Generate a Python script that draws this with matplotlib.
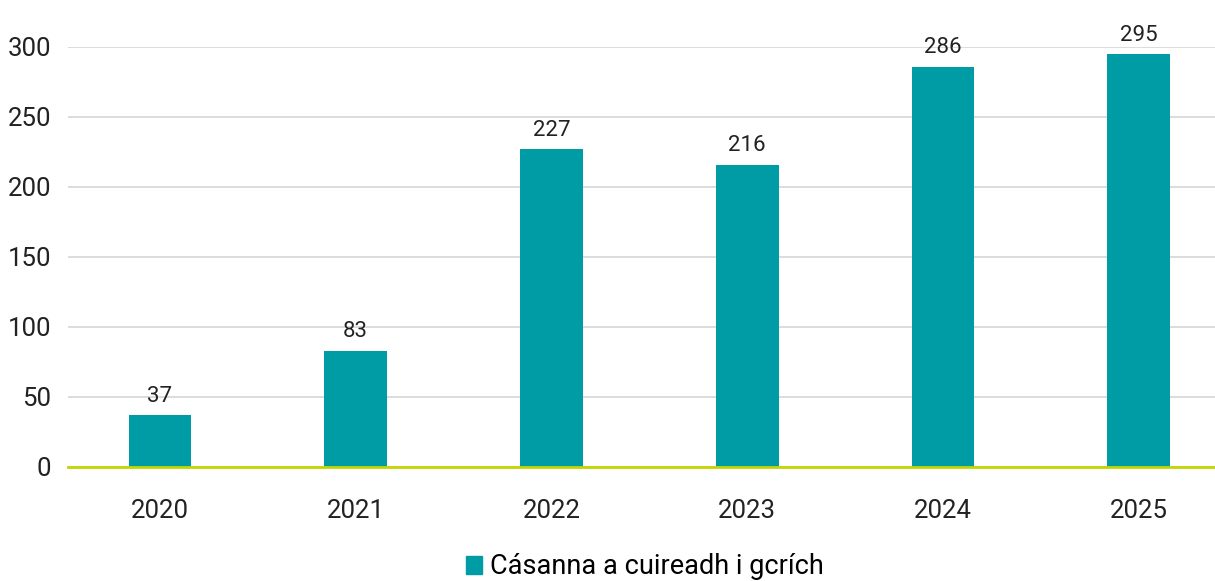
import matplotlib
matplotlib.use("Agg")
import matplotlib.pyplot as plt
from matplotlib.patches import Patch

years = ["2020", "2021", "2022", "2023", "2024", "2025"]
values = [37, 83, 227, 216, 286, 295]
series_name = "Cásanna a cuireadh i gcrích"
yticks = [0, 50, 100, 150, 200, 250, 300]

plt.rcParams['font.family'] = ['Roboto', 'DejaVu Sans']

W, H = 1215, 581
fig = plt.figure(figsize=(W/100, H/100), dpi=100)
ax = fig.add_axes([68/W, (H-467)/H, (1215-68)/W, (467-47)/H])

teal = "#009CA6"
x = list(range(len(years)))
ax.bar(x, values, width=0.32, color=teal, zorder=3)
for xi, v in zip(x, values):
    ax.text(xi, v + 6, str(v), ha="center", va="bottom", fontsize=16, color="#222222", clip_on=False)

ax.set_xlim(-0.47, 5.39)
ax.set_ylim(0, 300)
ax.set_yticks(yticks)
ax.set_xticks(x)
ax.set_xticklabels(years)
ax.tick_params(axis="both", length=0, labelsize=18.5, colors="#222222")
ax.tick_params(axis="x", pad=23)
ax.tick_params(axis="y", pad=12)
ax.grid(axis="y", color="#d9d9d9", linewidth=1.3, zorder=0)
for s in ["top", "right", "left"]:
    ax.spines[s].set_visible(False)
ax.spines["bottom"].set_color("#C4D600")
ax.spines["bottom"].set_linewidth(2)
ax.spines["bottom"].set_zorder(4)

fig.legend(handles=[Patch(color=teal, label=series_name)], loc="center",
           bbox_to_anchor=(645/W, 1 - 567/H), frameon=False, fontsize=19.5,
           handlelength=0.6, handleheight=0.6, handletextpad=0.3)

fig.savefig("out.png", dpi=100)
